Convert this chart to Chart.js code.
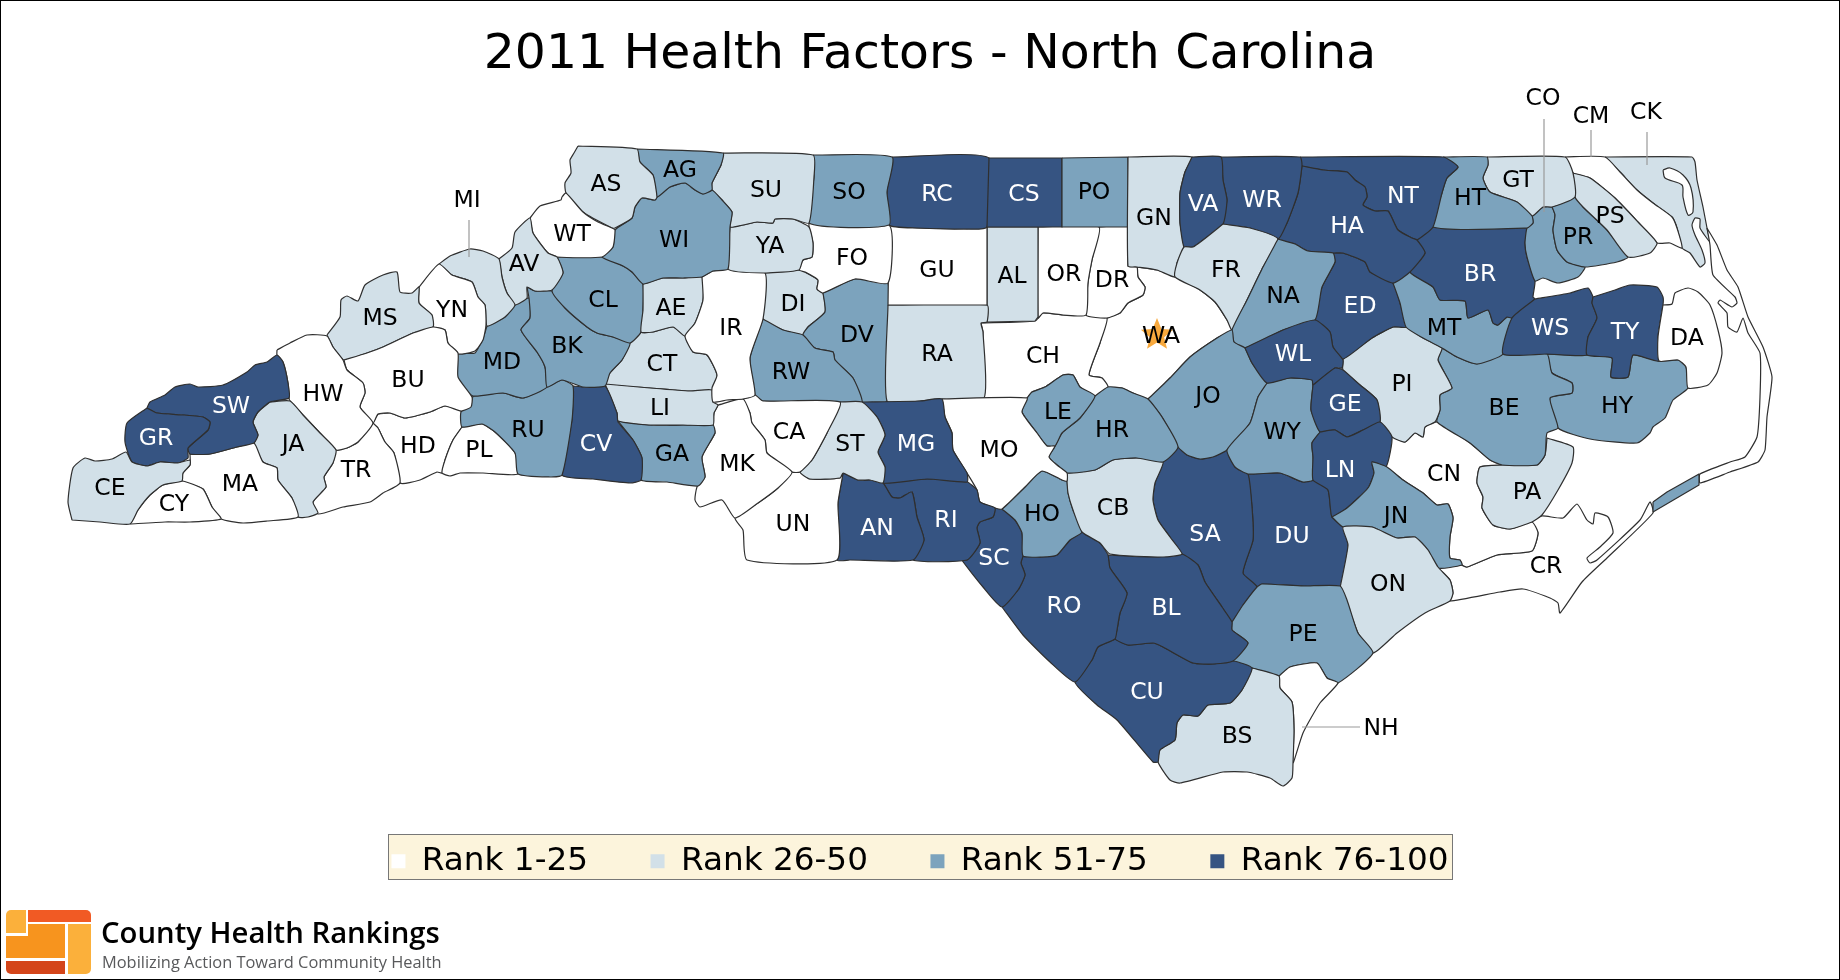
<!DOCTYPE html>
<html><head><meta charset="utf-8"><title>2011 Health Factors - North Carolina</title>
<style>html,body{margin:0;padding:0;background:#fff}canvas{display:block}</style>
<script src="https://cdn.jsdelivr.net/npm/chart.js@4/dist/chart.umd.min.js"></script>
</head><body><canvas id="map" width="1840" height="980"></canvas>
<script>
const chartTitle = "2011 Health Factors - North Carolina";
const tierNames = ["Rank 1-25","Rank 26-50","Rank 51-75","Rank 76-100"];
const tierColors = ["#FFFFFF","#D2E0E8","#7CA3BD","#365482"];
const countyCodes = ["CE","CY","GR","SW","MA","JA","HW","TR","BU","MS","YN","MI","AV","WT","AS","AG","WI","SU","SO","YA","FO","IR","AE","CL","BK","MD","RU","PL","HD","CV","LI","CT","GA","MK","CA","ST","UN","AN","MG","RI","MO","LE","HR","CB","HO","SC","RO","BL","CU","BS","NH","PE","ON","JN","LN","GE","WL","WY","JO","SA","DU","NA","FR","VA","WR","GN","PO","CS","RC","GU","RA","AL","OR","DR","CH","WA","RW","DV","DI","HA","NT","HT","GT","PS","PR","CO","CM","CK","DA","TY","WS","BR","MT","ED","PI","BE","HY","PA","CN","CR"];
const countyTiers = [1,0,3,3,0,1,0,0,0,1, 0,1,1,0,1,2,2,1,2,1, 0,0,1,2,2,2,2,0,0,3, 1,1,2,0,0,1,0,3,3,3, 0,2,2,1,2,3,3,3,3,1, 0,2,1,2,3,3,3,2,2,3, 3,2,1,3,3,1,2,3,3,0, 1,1,0,0,0,0,2,2,1,3, 3,2,1,1,2,2,0,1,0,3, 3,3,2,3,1,2,2,1,0,0];
const labelX = [110,174,156,231,240,293,323,356,408,380, 452,467,524,572,606,680,674,766,849,770, 852,731,671,603,567,502,528,479,418,596, 660,662,672,737,789,850,793,877,916,946, 999,1058,1112,1113,1042,994,1064,1166,1147,1237, 1381,1303,1388,1396,1340,1345,1293,1282,1208,1205, 1292,1283,1226,1203,1262,1154,1094,1024,937,937, 937,1012,1064,1112,1043,1161,791,857,793,1347, 1403,1470,1518,1610,1578,1543,1591,1646,1687,1625, 1550,1480,1444,1360,1402,1504,1617,1527,1444,1546];
const labelY = [489,505,439,407,485,445,395,471,381,319, 311,201,265,235,185,171,241,191,193,247, 259,329,309,301,347,363,431,451,447,445, 409,365,455,465,433,445,525,529,445,521, 451,413,431,509,515,559,607,609,693,737, 729,635,585,517,471,405,355,433,397,535, 537,297,271,205,201,219,193,195,195,271, 355,277,275,281,357,337,373,336,305,227, 197,199,181,217,238,99,117,113,339,333, 329,275,329,307,385,409,407,493,475,567];
const rectilinear = ["PO","CS","GU","AL"];
// county outlines as x,y runs in map units, same order as countyCodes
const countyOutlines = [
[72,520,68,502,73,468,85,458,95,461,112,459,126,452,132,462,147,466,160,462,178,463,190,460,190,465,183,473,182,481,163,485,150,495,138,510,130,524,100,522,72,520],
[130,524,138,510,150,495,163,485,182,481,203,489,212,507,221,519,190,522,165,522,130,524],
[147,408,127,423,125,442,132,462,147,466,160,462,178,463,188,458,188,448,208,430,210,422,203,417,183,415,157,413,147,408],
[147,408,150,402,165,395,175,387,190,384,198,387,223,385,247,372,255,365,267,362,277,355,283,362,288,383,289,398,270,402,258,412,253,422,258,435,254,443,237,447,210,454,190,454,188,448,208,430,210,422,203,417,183,415,157,413,147,408],
[190,454,210,454,237,447,254,443,263,462,277,468,278,480,292,498,298,517,267,521,243,523,221,519,212,507,203,489,182,481,183,473,190,465,190,454],
[270,402,290,401,303,415,320,433,336,450,333,463,324,477,326,487,313,502,318,513,308,517,298,517,292,498,278,480,277,468,263,462,254,443,258,435,253,422,258,412,270,402],
[277,350,290,343,307,335,327,336,333,347,343,360,347,370,363,383,365,393,360,407,373,423,358,442,347,448,336,450,320,433,303,415,290,401,289,398,288,383,283,362,277,355,277,350],
[373,423,378,428,385,442,394,453,400,483,383,493,370,502,343,507,318,514,313,502,326,487,324,477,333,463,336,450,347,448,358,442,373,423],
[344,360,367,353,383,347,413,333,433,327,445,330,448,343,458,353,458,377,472,397,471,407,461,411,445,406,430,412,405,418,390,413,378,414,373,423,360,407,365,393,363,383,347,370,344,360],
[327,335,340,317,341,300,347,296,358,301,365,285,383,275,397,272,400,292,412,293,419,287,419,303,432,315,433,327,413,333,383,347,367,353,344,360,333,347,327,335],
[419,287,439,264,452,275,472,282,478,297,485,305,486,325,483,340,475,351,458,354,448,343,445,330,433,327,432,315,419,303,419,287],
[439,264,450,256,470,249,483,251,499,259,502,277,507,293,515,305,505,317,487,326,485,305,478,297,472,282,452,275,439,264],
[499,259,512,248,515,232,530,218,533,233,548,253,557,257,563,273,552,290,535,291,527,287,527,298,515,305,507,293,502,277,499,259],
[530,218,540,206,561,200,562,197,566,193,583,212,598,222,612,228,615,230,613,247,602,257,557,257,548,253,533,233,530,218],
[578,146,637,149,640,162,653,175,657,197,655,200,642,198,635,207,632,218,615,228,612,228,583,212,566,193,565,183,571,173,570,160,574,153,578,146],
[637,149,723,153,721,165,712,183,712,190,703,194,695,190,685,183,670,187,657,197,653,175,640,162,637,149],
[657,197,670,187,685,183,695,190,703,194,712,190,722,200,732,212,730,227,728,269,713,271,702,277,683,278,663,278,643,284,632,272,623,266,602,257,613,247,615,230,632,218,635,207,642,198,655,200,657,197],
[723,153,813,155,814,177,809,223,793,219,775,219,773,223,757,222,743,225,730,227,732,212,722,200,712,190,712,183,721,165,723,153],
[813,155,892,157,887,192,889,225,809,223,814,177,813,155],
[730,227,743,225,757,222,773,223,775,219,793,219,809,227,813,243,812,257,803,260,799,270,765,273,728,269,730,227],
[809,223,889,225,888,283,855,279,823,293,817,289,818,280,805,272,799,270,803,260,812,257,813,243,809,227,809,223],
[702,277,713,271,728,269,765,273,763,319,750,358,755,395,743,399,727,400,713,402,712,388,717,375,707,355,693,352,685,336,695,323,703,300,702,277],
[643,284,663,278,683,278,702,277,703,300,695,323,685,336,673,327,653,332,641,332,643,310,643,284],
[557,257,602,257,623,266,632,272,643,284,643,310,641,332,630,343,613,337,597,333,587,327,565,308,552,291,563,273,557,257],
[527,287,535,291,552,291,565,308,587,327,597,333,613,337,630,343,622,360,610,373,605,386,583,387,562,380,547,387,545,367,537,352,521,330,530,318,529,298,527,287],
[487,326,505,317,515,305,529,298,530,318,521,330,537,352,545,367,547,387,523,398,503,393,473,396,457,380,458,354,475,353,483,338,487,326],
[473,396,503,393,523,398,547,387,562,380,573,386,572,420,562,475,550,477,518,474,515,453,495,432,482,424,462,427,461,412,470,405,473,396],
[462,427,482,424,495,432,515,453,518,474,483,473,460,473,450,476,442,473,445,460,453,440,462,427],
[378,414,390,413,405,418,430,412,445,406,461,411,462,427,453,440,445,460,442,473,437,472,420,480,400,483,394,453,385,442,378,428,373,423,378,414],
[573,386,583,387,605,386,617,413,618,422,633,440,642,458,641,480,630,483,593,479,562,475,572,420,573,386],
[605,384,650,388,690,391,712,390,713,402,718,405,714,413,713,425,683,425,650,425,618,421,617,413,605,384],
[641,332,653,332,673,327,685,336,693,352,707,355,717,375,712,390,690,391,650,388,605,384,610,373,622,360,630,343,641,332],
[618,421,650,425,683,425,713,425,715,433,702,457,705,477,698,486,667,482,641,480,642,458,633,440,618,421],
[718,405,743,399,750,413,752,423,765,440,767,453,792,472,778,488,758,503,735,518,722,500,700,507,695,500,697,487,705,477,702,457,715,433,713,425,714,413,718,405],
[743,399,755,395,763,401,840,402,827,433,812,460,800,472,792,472,767,453,765,440,752,423,750,413,743,399],
[840,402,862,402,877,417,885,435,878,452,885,467,883,483,870,480,858,480,843,473,840,478,810,479,800,472,812,460,827,433,840,402],
[792,472,800,472,810,479,840,478,843,473,838,503,837,560,747,560,743,530,735,518,758,503,778,488,792,472],
[843,473,858,480,870,480,883,483,892,497,900,498,912,492,917,517,924,540,913,560,850,560,837,560,838,503,843,473],
[862,402,920,401,942,399,945,417,952,433,953,450,967,473,967,482,927,479,883,483,885,467,878,452,885,435,877,417,862,402],
[883,483,927,479,967,482,977,490,980,502,995,508,993,517,980,522,977,528,980,543,967,560,913,560,924,540,917,517,912,492,900,498,892,497,883,483],
[942,399,1027,398,1022,412,1037,433,1047,446,1055,446,1049,457,1057,465,1067,473,1067,481,1062,480,1042,471,1025,487,1002,509,995,508,980,502,977,490,967,473,953,450,952,433,945,417,942,399],
[1027,398,1032,392,1045,387,1063,375,1073,375,1080,387,1095,396,1080,418,1062,433,1055,446,1047,446,1037,433,1022,412,1027,398],
[1095,396,1108,387,1122,388,1133,393,1148,399,1162,417,1178,447,1163,462,1137,458,1113,460,1095,470,1067,473,1057,465,1049,457,1055,446,1062,433,1080,418,1095,396],
[1067,473,1095,470,1113,460,1137,458,1163,462,1155,483,1153,500,1158,520,1170,537,1182,554,1163,557,1110,554,1100,543,1082,532,1073,510,1068,493,1067,481,1067,473],
[1002,509,1025,487,1042,471,1062,480,1067,481,1068,493,1073,510,1082,532,1070,540,1057,555,1042,557,1023,556,1022,533,1015,520,1002,509],
[995,508,1002,509,1015,520,1022,533,1023,556,1021,563,1025,575,1018,590,1002,607,983,587,962,560,967,560,980,543,977,528,980,522,993,517,995,508],
[1002,607,1018,590,1025,575,1021,563,1023,556,1042,557,1057,555,1070,540,1082,532,1100,543,1108,555,1110,568,1127,593,1120,613,1117,630,1115,639,1098,647,1092,660,1075,682,1050,662,1023,635,1002,607],
[1108,555,1157,557,1182,554,1198,565,1205,582,1222,607,1232,622,1232,630,1248,643,1233,661,1213,664,1193,663,1163,647,1153,643,1128,645,1115,639,1117,630,1120,613,1127,593,1110,568,1108,555],
[1115,639,1128,645,1153,643,1163,647,1193,663,1213,664,1233,661,1252,668,1242,690,1230,703,1208,705,1198,716,1183,715,1177,723,1175,740,1160,750,1158,762,1153,762,1117,720,1097,705,1075,682,1092,660,1098,647,1115,639],
[1252,668,1279,676,1280,688,1292,702,1294,730,1293,763,1292,778,1283,786,1270,778,1247,772,1223,772,1180,783,1170,780,1158,762,1160,750,1175,740,1177,723,1183,715,1198,716,1208,705,1230,703,1242,690,1252,668],
[1279,676,1290,667,1317,663,1327,678,1338,683,1320,703,1303,733,1293,763,1294,730,1292,702,1280,688,1279,676],
[1232,622,1243,605,1257,587,1262,584,1303,586,1340,586,1347,600,1358,633,1373,653,1338,683,1327,678,1317,663,1290,667,1279,676,1252,668,1233,661,1248,643,1232,630,1232,622],
[1340,588,1348,545,1343,527,1372,527,1397,538,1415,537,1428,550,1438,567,1450,580,1453,593,1450,601,1425,613,1397,633,1373,653,1358,633,1347,603,1340,588],
[1332,517,1347,508,1368,488,1374,473,1372,462,1387,467,1403,480,1423,493,1437,505,1448,504,1453,518,1450,537,1450,558,1460,560,1462,565,1438,568,1428,550,1415,537,1397,538,1372,527,1343,527,1332,517],
[1320,432,1335,430,1347,437,1363,430,1380,422,1392,437,1386,467,1372,462,1374,473,1368,488,1347,508,1332,517,1328,490,1313,480,1313,457,1312,443,1320,432],
[1313,385,1335,368,1343,370,1360,385,1377,400,1380,422,1363,430,1347,437,1335,430,1320,432,1311,410,1313,385],
[1245,348,1283,330,1315,320,1330,332,1333,347,1343,360,1342,368,1335,368,1313,385,1312,380,1290,378,1267,383,1252,363,1245,348],
[1267,383,1290,378,1312,380,1313,385,1311,410,1320,432,1312,443,1313,457,1313,480,1303,482,1280,473,1248,474,1235,467,1227,450,1250,423,1258,397,1267,383],
[1148,399,1170,378,1190,357,1217,338,1232,330,1234,342,1245,348,1252,363,1267,383,1258,397,1250,423,1227,450,1213,457,1200,459,1187,455,1178,447,1162,417,1148,399],
[1163,462,1178,447,1187,455,1203,459,1227,450,1235,467,1248,474,1252,507,1253,540,1243,573,1257,587,1243,605,1232,622,1222,607,1205,582,1198,565,1182,554,1170,537,1158,520,1153,500,1155,483,1163,462],
[1248,474,1280,473,1303,482,1313,480,1328,490,1332,517,1343,527,1348,545,1340,588,1303,586,1262,584,1257,587,1243,573,1253,540,1252,507,1248,474],
[1278,239,1295,244,1308,251,1333,253,1335,262,1322,287,1315,320,1283,330,1245,348,1234,342,1232,330,1247,300,1263,267,1278,239],
[1223,224,1250,228,1278,239,1263,267,1247,300,1232,330,1227,320,1215,302,1200,290,1175,277,1177,263,1184,247,1193,247,1203,240,1223,224],
[1192,157,1221,157,1223,180,1227,200,1223,224,1203,240,1193,247,1184,247,1180,223,1180,193,1185,172,1192,157],
[1221,157,1300,157,1302,165,1298,193,1287,223,1278,239,1250,228,1223,224,1227,200,1223,180,1221,157],
[1128,157,1192,157,1185,172,1180,193,1180,223,1184,247,1177,263,1175,277,1157,270,1137,267,1128,266,1128,157],
[1062,158,1128,157,1128,227,1062,227,1062,158],
[989,158,1062,158,1062,227,987,227,989,158],
[892,157,989,158,987,227,963,229,917,228,889,225,887,192,892,157],
[889,225,917,228,963,229,987,227,987,305,888,305,889,225],
[888,305,987,305,987,322,981,323,983,332,984,398,942,399,920,401,887,401,888,305],
[987,227,1038,227,1038,317,1035,321,987,322,987,227],
[1038,227,1099,227,1092,260,1088,283,1086,315,1063,315,1043,313,1038,318,1038,227],
[1099,227,1128,227,1128,266,1137,267,1138,277,1145,287,1143,295,1128,303,1120,313,1107,318,1086,315,1088,283,1092,260,1099,227],
[981,323,1035,321,1043,313,1063,315,1086,315,1107,318,1100,343,1089,375,1102,378,1108,387,1095,396,1080,387,1073,375,1063,375,1045,387,1032,392,1027,398,984,398,983,332,981,323],
[1137,267,1157,270,1175,277,1200,290,1215,302,1227,320,1232,330,1217,338,1190,357,1170,378,1148,399,1133,393,1122,388,1108,387,1102,378,1089,375,1100,343,1107,318,1120,313,1128,303,1143,295,1145,287,1138,277,1137,267],
[763,319,783,330,803,335,815,348,833,352,835,360,853,378,862,402,840,402,763,401,755,395,750,358,763,319],
[823,293,855,279,888,283,887,401,862,402,853,378,835,360,833,352,815,348,803,335,808,327,825,312,823,293],
[765,273,799,270,805,272,818,280,817,289,823,293,825,312,808,327,803,335,783,330,763,319,765,273],
[1302,166,1323,170,1347,172,1355,180,1365,187,1367,197,1363,205,1375,211,1388,211,1398,230,1412,238,1417,240,1425,253,1410,272,1393,283,1370,272,1365,262,1343,253,1333,253,1308,251,1295,244,1278,239,1287,223,1298,193,1302,166],
[1300,157,1443,157,1458,167,1447,178,1442,193,1433,227,1417,240,1412,238,1398,230,1388,211,1375,211,1363,205,1367,197,1365,187,1355,180,1347,172,1323,170,1302,166,1300,157],
[1443,157,1487,157,1488,165,1483,178,1490,192,1517,202,1532,216,1533,223,1527,228,1433,227,1442,193,1447,178,1458,167,1443,157],
[1487,157,1565,157,1573,173,1575,197,1552,207,1543,207,1532,216,1517,202,1490,192,1483,178,1488,165,1487,157],
[1573,173,1590,178,1615,198,1638,222,1657,243,1650,253,1628,257,1607,230,1583,207,1575,197,1573,173],
[1552,207,1575,197,1583,207,1607,230,1628,257,1617,262,1585,267,1567,262,1557,250,1553,230,1555,215,1552,207],
[1532,216,1543,207,1552,207,1555,215,1553,230,1557,250,1567,262,1585,267,1578,277,1558,283,1543,278,1535,281,1527,257,1525,243,1527,228,1533,223,1532,216],
[1565,157,1605,157,1620,172,1637,190,1653,203,1672,217,1677,228,1682,248,1670,243,1657,243,1638,222,1615,198,1590,178,1573,173,1565,157],
[1605,157,1692,157,1695,162,1697,180,1703,207,1707,228,1710,242,1700,228,1700,219,1695,218,1692,225,1695,235,1702,250,1705,263,1700,267,1690,253,1682,248,1677,228,1672,217,1653,203,1637,190,1620,172,1605,157],
[1663,305,1672,304,1675,293,1688,288,1698,292,1710,305,1718,330,1722,353,1717,373,1708,385,1688,388,1686,367,1678,360,1659,361,1658,337,1663,305],
[1593,297,1615,290,1630,285,1657,287,1663,297,1663,305,1658,337,1659,361,1633,355,1628,377,1611,377,1612,358,1587,355,1588,337,1597,318,1592,303,1593,297],
[1535,299,1570,293,1588,288,1593,297,1592,303,1597,318,1588,337,1587,355,1547,354,1503,354,1512,318,1535,299],
[1433,227,1527,228,1525,243,1527,257,1535,281,1533,297,1535,299,1512,318,1507,317,1498,325,1493,323,1488,310,1468,318,1465,301,1440,300,1433,287,1410,272,1425,253,1417,240,1433,227],
[1393,283,1410,272,1433,287,1440,300,1465,301,1468,318,1488,310,1493,323,1498,325,1507,317,1512,318,1503,354,1477,364,1457,357,1442,348,1423,338,1406,327,1400,303,1393,283],
[1333,253,1343,253,1365,262,1370,272,1393,283,1400,303,1406,327,1393,327,1372,338,1343,359,1333,347,1330,332,1315,320,1322,287,1335,262,1333,253],
[1343,359,1372,338,1393,327,1406,327,1423,338,1442,348,1438,360,1452,388,1440,395,1440,410,1435,422,1425,427,1423,437,1415,433,1405,442,1392,437,1380,422,1377,400,1360,385,1343,370,1343,359],
[1442,348,1457,357,1477,364,1503,354,1547,354,1552,373,1572,383,1572,393,1550,398,1558,428,1547,433,1545,455,1537,465,1502,465,1490,460,1470,443,1437,422,1440,410,1440,395,1452,388,1438,360,1442,348],
[1547,354,1587,355,1612,358,1611,377,1628,377,1633,355,1659,361,1678,360,1686,367,1688,388,1673,400,1665,418,1653,427,1650,433,1637,443,1590,439,1558,428,1550,398,1572,393,1572,383,1552,373,1547,354],
[1547,438,1573,447,1572,463,1558,490,1542,515,1532,522,1510,529,1493,525,1482,508,1483,497,1477,483,1480,467,1502,465,1537,465,1545,455,1547,438],
[1386,467,1392,437,1405,442,1415,433,1423,437,1425,427,1437,422,1470,443,1490,460,1502,465,1480,467,1477,483,1483,497,1482,508,1493,525,1510,529,1532,522,1538,533,1532,551,1497,555,1467,567,1462,565,1460,560,1450,558,1450,537,1453,518,1448,504,1437,505,1423,493,1403,480,1386,467],
[1438,568,1462,565,1467,567,1497,555,1532,551,1538,533,1532,522,1542,516,1563,518,1577,504,1587,520,1593,524,1595,513,1608,517,1613,533,1600,547,1587,558,1590,563,1597,560,1640,520,1650,502,1653,513,1607,558,1582,582,1560,613,1558,603,1550,598,1523,589,1500,592,1450,601,1453,593,1450,580,1438,568]
];
const lakeOutline = [1663,170,1670,168,1683,175,1691,188,1693,212,1688,215,1683,197,1682,185,1665,178,1663,170];
const outerBanksOutline = [1707,228,1717,245,1727,270,1738,287,1748,317,1763,347,1772,377,1767,417,1765,450,1758,462,1730,472,1700,483,1700,474,1730,462,1745,457,1757,437,1760,397,1760,353,1748,333,1743,318,1737,332,1728,327,1727,313,1718,303,1720,300,1732,307,1737,303,1735,297,1713,275,1710,245,1707,228];
const hydeStripOutline = [1653,502,1667,492,1699,474,1699,485,1653,512,1653,502];
const capitalX = [1157];
const capitalY = [334];
const leaderX = [[469,469],[1544,1544],[1591,1591],[1647,1647],[1302,1360]];
const leaderY = [[220,257],[119,212],[130,157],[132,165],[727,727]];

const toPoints = flat => { const pts = []; for (let i = 0; i < flat.length; i += 2) pts.push({x: flat[i], y: flat[i + 1]}); return pts; };
const shapeSet = (label, flat, color, tension, order) => ({ type:'scatter', label, data: toPoints(flat), showLine:true, fill:'shape', backgroundColor: color, borderColor:'#2f2f2f', borderWidth:1.2, borderJoinStyle:'round', pointRadius:0, tension, order, clip:false });

function starImage(){
  const s = 36, c = document.createElement('canvas'); c.width = c.height = s;
  const g = c.getContext('2d'); g.fillStyle = '#F8A93D'; g.beginPath();
  for (let i = 0; i < 10; i++){ const r = i % 2 ? 7.5 : 17, a = -Math.PI/2 + i*Math.PI/5; g[i ? 'lineTo':'moveTo'](s/2 + r*Math.cos(a), s/2 + 1 + r*Math.sin(a)); }
  g.closePath(); g.fill(); return c;
}
const datasets = [];
countyCodes.forEach((code, i) => datasets.push(shapeSet(code, countyOutlines[i], tierColors[countyTiers[i]], rectilinear.includes(code) ? 0 : 0.18, 5)));
datasets.push(shapeSet('lake', lakeOutline, '#FFFFFF', 0.3, 3));
datasets.push(shapeSet('banks', outerBanksOutline, '#FFFFFF', 0.15, 4));
datasets.push(shapeSet('strip', hydeStripOutline, tierColors[2], 0, 3));
leaderX.forEach((xs, i) => datasets.push({ type:'scatter', label:'leader', data: xs.map((x, j) => ({x, y: leaderY[i][j]})), showLine:true, borderColor:'#9a9a9a', borderWidth:1.2, pointRadius:0, order:2, clip:false }));
datasets.push({ type:'scatter', label:'capital', data: capitalX.map((x, i) => ({x, y: capitalY[i]})), pointStyle: starImage(), pointRadius:17, order:1, clip:false });

const decorations = {
  id:'decorations',
  afterLayout(chart){
    const area = chart.chartArea, y = chart.scales.y;
    y.min = area.top; y.max = area.bottom; y.configure();
    const lg = chart.legend, dy = 782.5 - lg.top;
    lg.top += dy; lg.bottom += dy;
    chart.titleBlock.left += 10; chart.titleBlock.right += 10;
  },
  beforeDraw(chart){
    const c = chart.ctx;
    c.save();
    c.fillStyle = '#FCF4DC'; c.strokeStyle = '#777'; c.lineWidth = 1;
    c.fillRect(388.5,834.5,1064,45); c.strokeRect(388.5,834.5,1064,45);
    c.restore();
  },
  afterDraw(chart){
    const c = chart.ctx, xs = chart.scales.x, ys = chart.scales.y;
    c.save();
    c.textAlign = 'center'; c.textBaseline = 'middle'; c.font = '23.5px "DejaVu Sans"';
    countyCodes.forEach((code, i) => {
      c.fillStyle = countyTiers[i] === 3 ? '#FFFFFF' : '#000000';
      c.fillText(code, xs.getPixelForValue(labelX[i]), ys.getPixelForValue(labelY[i]));
    });
    // logo
    const box = (x,y,w,h,col,r) => { c.fillStyle = col; c.beginPath(); c.roundRect(x,y,w,h,r||0); c.fill(); };
    box(6,910,20,23,'#FBB03B',[5,0,0,0]);
    box(28,910,63,12,'#F15A24',[0,5,0,0]);
    box(28,924,37,13,'#F7941E');
    box(6,936,59,22,'#F7941E');
    box(6,961,59,13,'#D4451A',[0,0,0,5]);
    box(68,924,23,50,'#FBB03B',[0,0,5,0]);
    c.textAlign = 'left'; c.textBaseline = 'alphabetic';
    c.fillStyle = '#000'; c.font = '600 29.3px "Open Sans"';
    c.fillText('County Health Rankings', 101, 943);
    c.fillStyle = '#58595B'; c.font = '16.4px "Open Sans"';
    c.fillText('Mobilizing Action Toward Community Health', 102, 968);
    c.strokeStyle = '#000'; c.lineWidth = 1; c.strokeRect(0.5,0.5,1839,979);
    c.restore();
  }
};

new Chart(document.getElementById('map'), {
  type:'scatter',
  data:{ datasets },
  plugins:[decorations],
  options:{
    responsive:false, animation:false, devicePixelRatio:1,
    layout:{ padding:0, autoPadding:false },
    events:[],
    scales:{
      x:{ type:'linear', min:0, max:1840, display:false },
      y:{ type:'linear', min:0, max:980, reverse:true, display:false }
    },
    plugins:{
      tooltip:{ enabled:false },
      title:{ display:true, text:chartTitle, color:'#000', font:{ family:'"DejaVu Sans"', size:48.85, weight:'normal' }, padding:{ top:26, bottom:0 } },
      legend:{ display:true, position:'bottom', labels:{
        boxWidth:14, boxHeight:14, padding:62.5, color:'#000',
        font:{ family:'"DejaVu Sans"', size:32.7 },
        generateLabels:() => tierNames.map((text, i) => ({ text, fillStyle:tierColors[i], strokeStyle:tierColors[i], lineWidth:0, hidden:false }))
      } }
    }
  }
});
</script></body></html>
